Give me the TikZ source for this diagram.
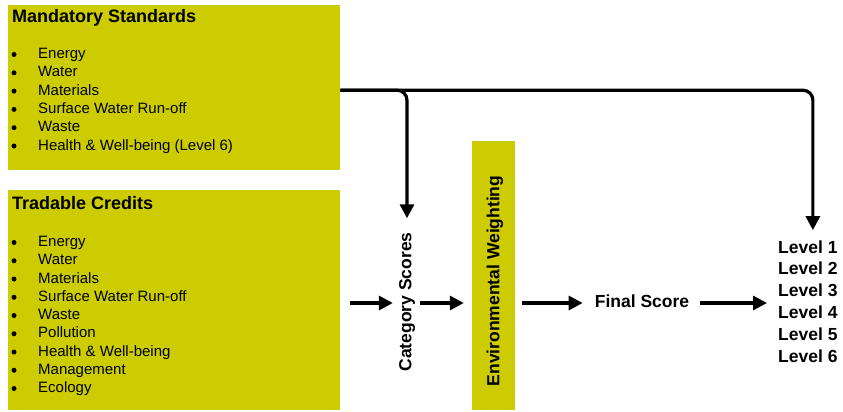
\documentclass[tikz,border=0pt]{standalone}
\usepackage{fontspec}
\setmainfont{Liberation Sans}
\usetikzlibrary{arrows.meta}
\definecolor{boxfill}{HTML}{CCCC00}
\begin{document}
\begin{tikzpicture}[x=1pt,y=-1pt,
 box/.style={fill=boxfill, draw=none, inner sep=0pt},
 ttl/.style={anchor=base west, inner sep=0pt, font=\fontsize{18}{21}\selectfont\bfseries},
 itm/.style={anchor=base west, inner sep=0pt, font=\fontsize{15}{18}\selectfont},
 bl/.style={circle, fill=black, inner sep=0pt, minimum size=5pt},
 lbl/.style={inner sep=0pt, font=\fontsize{17.5}{21}\selectfont\bfseries},
 conn/.style={line width=3.2pt, -{Triangle[length=14pt,width=14pt]}},
]
\useasboundingbox (0,0) rectangle (843,412);
% boxes
\node[box, minimum width=332pt, minimum height=165pt, anchor=north west] (ms) at (8,5) {};
\node[box, minimum width=332pt, minimum height=220pt, anchor=north west] (tc) at (8,190) {};
\node[ttl] (mst) at (12,22.5) {Mandatory Standards};
\node[ttl] (tct) at (12,209.5) {Tradable Credits};
\foreach \t [count=\i] in {Energy, Water, Materials, Surface Water Run-off, Waste, Health \& Well-being (Level 6)} {
  \node[itm] (msi\i) at (38, {58.5+18.3*(\i-1)}) {\t};
  \node[bl] (msb\i) at (14, {54.5+18.3*(\i-1)}) {};
}
\foreach \t [count=\i] in {Energy, Water, Materials, Surface Water Run-off, Waste, Pollution, Health \& Well-being, Management, Ecology} {
  \node[itm] (tci\i) at (38, {246.5+18.25*(\i-1)}) {\t};
  \node[bl] (tcb\i) at (14, {242.5+18.25*(\i-1)}) {};
}
% middle
\node[lbl, rotate=90] (cs) at (407,302) {Category Scores};
\node[box, rotate=90, minimum width=269pt, minimum height=43pt] (ew) at (493.5,275.5) {};
\node[lbl, rotate=90] (ewt) at (495,281) {Environmental Weighting};
\node[lbl, anchor=base] (fs) at (642,307) {Final Score};
\foreach \i in {1,...,6} {
  \node[lbl, anchor=base west] (l\i) at (778,{253+21.8*(\i-1)}) {Level \i};
}
% connectors
\coordinate (row) at (0,303);
\coordinate (src) at ([yshift=-2.5pt]ms.east);
\draw[conn, rounded corners=10pt, shorten >=10pt] (src) -| ([xshift=5pt]l1.north);
\draw[conn, rounded corners=10pt, shorten >=14pt] (src) -| (cs.east);
\draw[conn, shorten <=10pt, shorten >=6pt] (tc.east |- row) -- (cs.north |- row);
\draw[conn, shorten <=5pt, shorten >=8pt] (cs.south |- row) -- (ew.north |- row);
\draw[conn, shorten <=7pt, shorten >=12pt] (ew.south |- row) -- (fs.west |- row);
\draw[conn, shorten <=11pt, shorten >=11pt] (fs.east |- row) -- (l4.west |- row);
\end{tikzpicture}
\end{document}
